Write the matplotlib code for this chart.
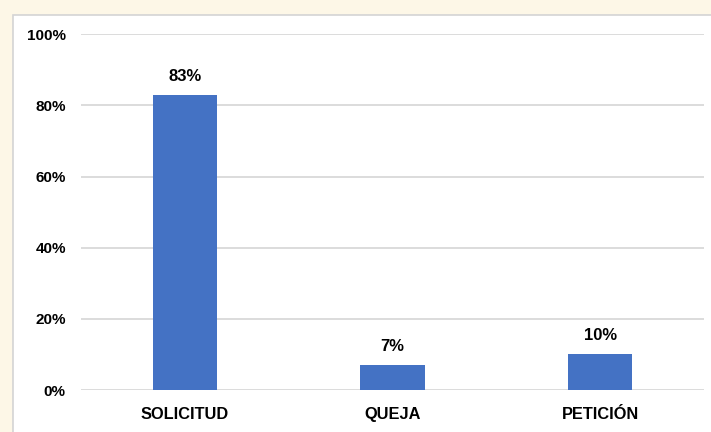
import matplotlib.pyplot as plt
from matplotlib.patches import Rectangle
from matplotlib.ticker import PercentFormatter

categories = ["SOLICITUD", "QUEJA", "PETICIÓN"]
shares = [0.83, 0.07, 0.10]
labels = ["83%", "7%", "10%"]
y_ticks = [0, 0.2, 0.4, 0.6, 0.8, 1.0]

plt.rcParams["font.family"] = ["Liberation Sans", "DejaVu Sans"]

fig = plt.figure(figsize=(7.11, 4.32), dpi=100, facecolor="#fdf7e7")

# white chart frame, cut off at right and bottom like the screenshot
fig.patches.append(
    Rectangle((0.018, -0.01), 1.0, 0.975, transform=fig.transFigure,
              facecolor="white", edgecolor="#d4d4d4", lw=1.2, zorder=-5)
)

ax = fig.add_axes([0.114, 0.097, 0.876, 0.824])
ax.set_zorder(2)
ax.set_facecolor("none")

x = range(len(categories))
ax.bar(x, shares, width=0.31, color="#4472c4", zorder=3)

for xi, v, s in zip(x, shares, labels):
    ax.annotate(s, (xi, v), xytext=(0, 8), textcoords="offset points",
                ha="center", va="bottom", fontsize=12, fontweight="bold")

ax.set_xlim(-0.5, 2.5)
ax.set_ylim(0, 1.0)
ax.set_yticks(y_ticks)
ax.yaxis.set_major_formatter(PercentFormatter(1.0, decimals=0))
ax.set_xticks(list(x), categories)
ax.grid(axis="y", color="#d9d9d9", lw=1.3, zorder=0)
ax.tick_params(length=0, labelsize=11)
ax.tick_params(axis="x", pad=12, labelsize=11.8)
ax.tick_params(axis="y", pad=11)
for lab in ax.get_xticklabels() + ax.get_yticklabels():
    lab.set_fontweight("bold")
for sp in ax.spines.values():
    sp.set_visible(False)

fig.savefig("out.png", dpi=100, facecolor=fig.get_facecolor())
